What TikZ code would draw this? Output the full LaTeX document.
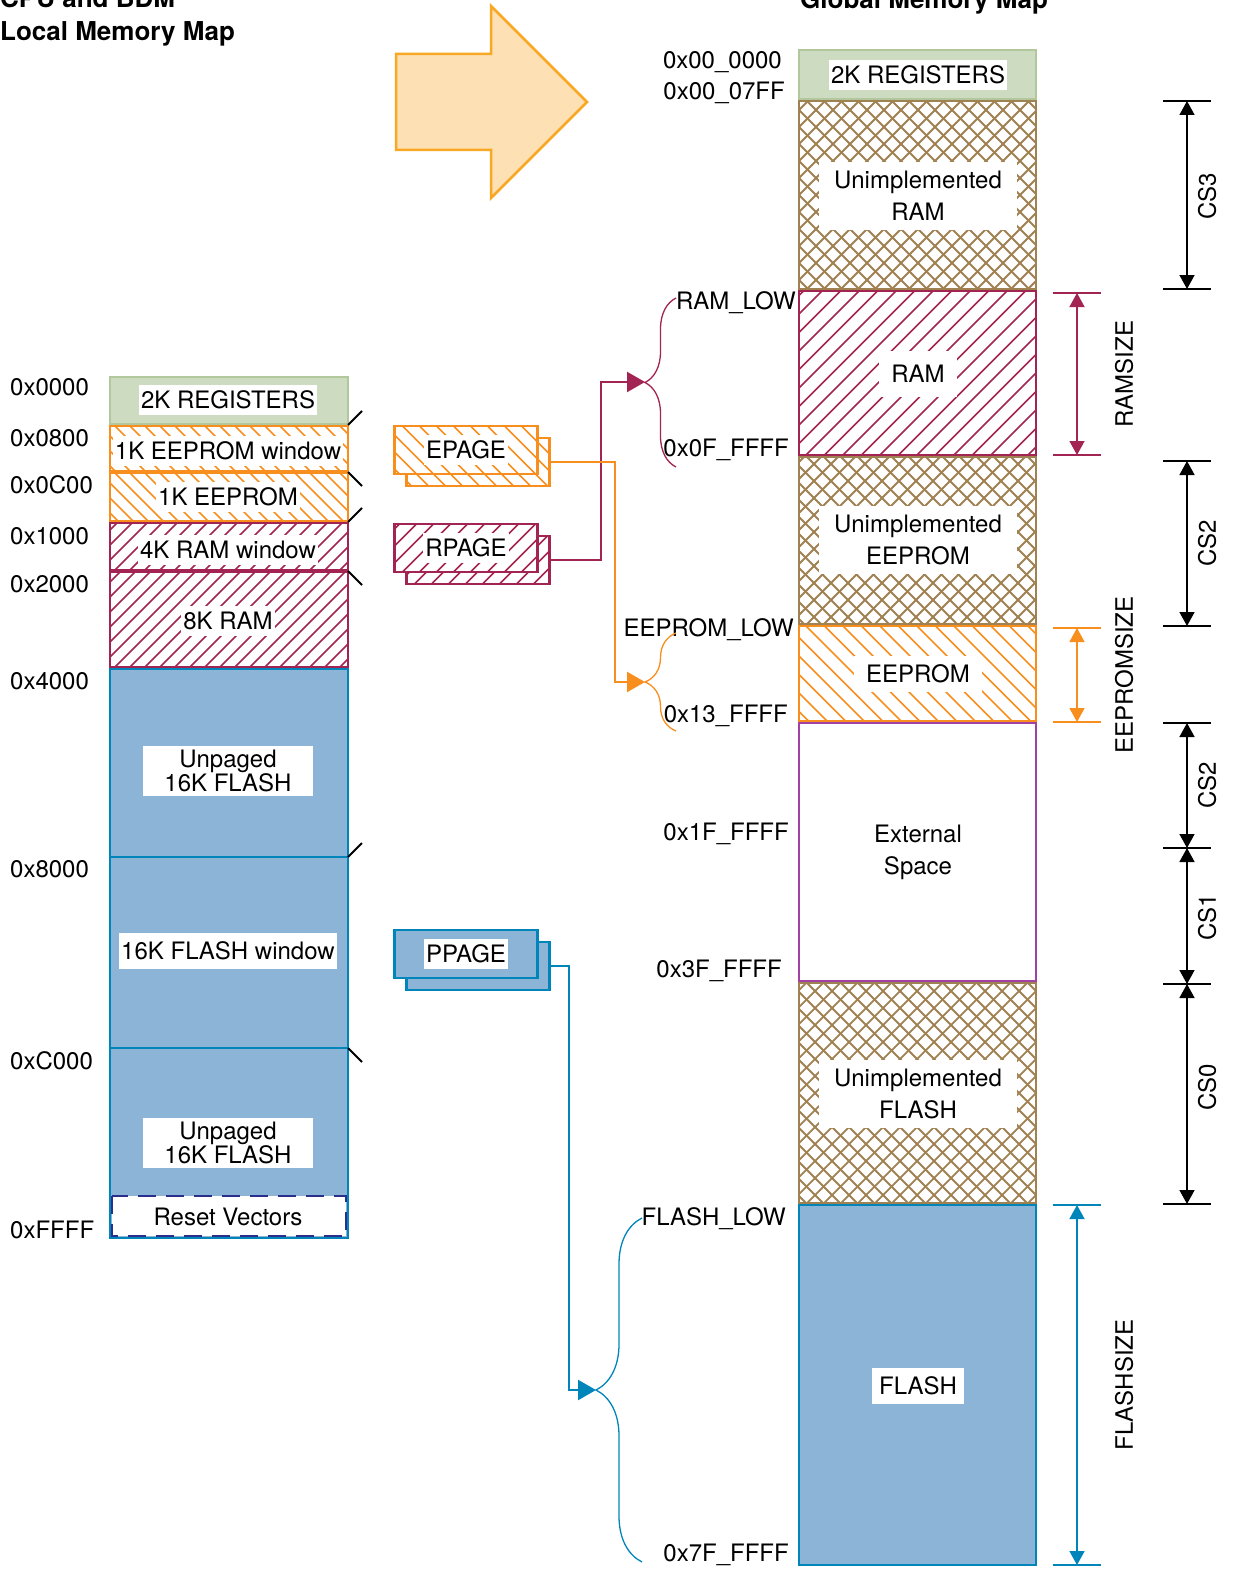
\documentclass[tikz,border=0pt]{standalone}
\usepackage{fontspec}
\setmainfont{TeX Gyre Heros}
\usepackage{tikz}
\usetikzlibrary{arrows.meta}
\usetikzlibrary{decorations.pathreplacing,calc}
\definecolor{regfill}{RGB}{205,219,192}
\definecolor{regline}{RGB}{178,199,155}
\definecolor{eeorange}{RGB}{247,142,30}
\definecolor{ramred}{RGB}{161,36,82}
\definecolor{flashfill}{RGB}{139,180,214}
\definecolor{flashline}{RGB}{0,133,186}
\definecolor{unimpl}{RGB}{160,129,82}
\definecolor{extpurple}{RGB}{163,64,163}
\definecolor{resetnavy}{RGB}{44,46,140}
\definecolor{bigfill}{RGB}{253,225,180}
\definecolor{bigline}{RGB}{249,168,37}
\begin{document}
\begin{tikzpicture}[x=1pt,y=-1pt,font=\fontsize{24}{32}\selectfont,
  hatchne/.style 2 args={path picture={\foreach \k in {0,#2,...,660}
    \draw[line width=1.7pt,#1] ($(path picture bounding box.south west)+(\k-400,0)$) -- ++(500,-500);}},
  hatchnw/.style 2 args={path picture={\foreach \k in {0,#2,...,660}
    \draw[line width=1.7pt,#1] ($(path picture bounding box.north west)+(\k-400,0)$) -- ++(500,500);}},
  regbox/.style={draw=regline,fill=regfill,line width=2.4pt},
  eebox/.style={draw=eeorange,line width=2.4pt,fill=white,hatchnw={eeorange}{#1}},
  eebox/.default=18.5,
  rambox/.style={draw=ramred,line width=2.4pt,fill=white,hatchne={ramred}{#1}},
  rambox/.default=18.5,
  flashbox/.style={draw=flashline,fill=flashfill,line width=2.4pt},
  unimplbox/.style={draw=unimpl,line width=2.4pt,fill=white,path picture={
    \foreach \k in {0,17,...,660} {
      \draw[line width=1.8pt,unimpl] ($(path picture bounding box.south west)+(\k-400,0)$) -- ++(500,-500);
      \draw[line width=1.8pt,unimpl] ($(path picture bounding box.north west)+(\k-400,0)$) -- ++(500,500);}}},
  pagebox/.style={minimum width=143,minimum height=48},
  lbl/.style={fill=white,inner xsep=2pt,inner ysep=6pt,align=center},
  glbl/.style={lbl,inner xsep=12pt,inner ysep=9pt},
  tight/.style={font=\fontsize{24}{23}\selectfont},
  addr/.style={inner sep=0pt},
  titl/.style={inner sep=0pt,anchor=base west,font=\fontsize{26}{30}\selectfont\bfseries},
  conn/.style={line width=2.4pt,-{Triangle[width=20pt,length=18pt]}},
  dimarr/.style={line width=1.5pt,{Triangle[width=15pt,length=14pt]}-{Triangle[width=15pt,length=14pt]}},
  dimtick/.style={line width=1.3pt},
  wintick/.style={line width=2pt},
  brc/.style={line width=1.3pt,decorate,decoration={brace,amplitude=#1}}]
\useasboundingbox (0,0) rectangle (1239,1581);

\node[titl] (ltitle) at (0,8) {CPU and BDM};
\node[titl] (ltitle2) at (0,41) {Local Memory Map};
\node[titl] (gtitle) at (800,9) {Global Memory Map};

\draw[line width=2.5pt,draw=bigline,fill=bigfill] (396,54) -- (491,54) -- (491,6) -- (587,102)
  -- (491,198) -- (491,150) -- (396,150) -- cycle;

% local map
\draw[regbox] (110,377) rectangle (348,424);
\draw[eebox=15] (110,426) rectangle (348,471);
\draw[eebox=15] (110,473) rectangle (348,521);
\draw[rambox=15] (110,523) rectangle (348,570);
\draw[rambox=15] (110,572) rectangle (348,667);
\draw[flashbox] (110,669) rectangle (348,857);
\draw[flashbox] (110,857) rectangle (348,1048);
\draw[flashbox] (110,1048) rectangle (348,1238);
\draw[line width=2.4pt,draw=resetnavy,fill=white,dash pattern=on 18pt off 10pt] (112,1196) rectangle (346,1236);

\node[lbl] (lregs) at (228,400) {2K REGISTERS};
\node[lbl] (leewin) at (228,451) {1K EEPROM window};
\node[lbl] (lee) at (228,497) {1K EEPROM};
\node[lbl] (lramwin) at (228,550) {4K RAM window};
\node[lbl] (lram) at (228,621) {8K RAM};
\node[lbl,tight,inner ysep=4pt,minimum width=170] (lflash1) at (228,771) {Unpaged\\16K FLASH};
\node[lbl,inner ysep=9pt] (lflashwin) at (228,951) {16K FLASH window};
\node[lbl,tight,inner ysep=4pt,minimum width=170] (lflash3) at (228,1143) {Unpaged\\16K FLASH};
\node[inner sep=0pt] (lreset) at (228,1217) {Reset Vectors};

\draw[wintick] (348,425) -- (362,411);
\draw[wintick] (348,472) -- (362,486);
\draw[wintick] (348,522) -- (362,508);
\draw[wintick] (348,571) -- (362,585);
\draw[wintick] (348,857) -- (362,843);
\draw[wintick] (348,1048) -- (362,1062);

\node[addr,anchor=base west] (a0000) at (10,395) {0x0000};
\node[addr,anchor=base west] (a0800) at (10,446) {0x0800};
\node[addr,anchor=base west] (a0c00) at (10,493) {0x0C00};
\node[addr,anchor=base west] (a1000) at (10,544) {0x1000};
\node[addr,anchor=base west] (a2000) at (10,592) {0x2000};
\node[addr,anchor=base west] (a4000) at (10,689) {0x4000};
\node[addr,anchor=base west] (a8000) at (10,877) {0x8000};
\node[addr,anchor=base west] (ac000) at (10,1069) {0xC000};
\node[addr,anchor=base west] (affff) at (10,1238) {0xFFFF};

% page registers
\node[eebox=17,pagebox] (epageb) at (478,462) {};
\node[eebox=17,pagebox] (epage) at (466,450) {};
\node[lbl] (epagetxt) at (epage) {EPAGE};
\node[rambox=17,pagebox] (rpageb) at (478,560) {};
\node[rambox=17,pagebox] (rpage) at (466,548) {};
\node[lbl] (rpagetxt) at (rpage) {RPAGE};
\node[flashbox,pagebox] (ppageb) at (478,966) {};
\node[flashbox,pagebox] (ppage) at (466,954) {};
\node[lbl] (ppagetxt) at (ppage) {PPAGE};

% global map
\draw[regbox] (799,50) rectangle (1036,99);
\draw[unimplbox] (799,101) rectangle (1036,289);
\draw[rambox] (799,291) rectangle (1036,455);
\draw[unimplbox] (799,457) rectangle (1036,624);
\draw[eebox] (799,626) rectangle (1036,721);
\draw[line width=2.4pt,draw=extpurple,fill=white] (799,723) rectangle (1036,981);
\draw[unimplbox] (799,983) rectangle (1036,1203);
\draw[flashbox] (799,1205) rectangle (1036,1565);

\node[lbl] (gregs) at (918,75) {2K REGISTERS};
\node[glbl,inner xsep=15pt] (gunram) at (918,196) {Unimplemented\\RAM};
\node[glbl,inner ysep=14pt] (gram) at (918,374) {RAM};
\node[glbl,inner xsep=15pt] (guneep) at (918,540) {Unimplemented\\EEPROM};
\node[glbl] (geep) at (918,674) {EEPROM};
\node[glbl] (gext) at (918,852) {External\\Space};
\node[glbl,inner xsep=15pt] (gunflash) at (918,1094) {Unimplemented\\FLASH};
\node[glbl,inner xsep=7pt] (gflash) at (918,1386) {FLASH};

\node[addr,anchor=base east] (g0000) at (782,69) {0x00\_0000};
\node[addr,anchor=base east] (g07ff) at (785,100) {0x00\_07FF};
\node[addr,anchor=base east] (gramlow) at (796,309) {RAM\_LOW};
\node[addr,anchor=base east] (g0fff) at (789,456) {0x0F\_FFFF};
\node[addr,anchor=base east] (geelow) at (794,636) {EEPROM\_LOW};
\node[addr,anchor=base east] (g13ff) at (788,722) {0x13\_FFFF};
\node[addr,anchor=base east] (g1fff) at (789,840) {0x1F\_FFFF};
\node[addr,anchor=base east] (g3fff) at (782,977) {0x3F\_FFFF};
\node[addr,anchor=base east] (gflow) at (786,1225) {FLASH\_LOW};
\node[addr,anchor=base east] (g7fff) at (789,1561) {0x7F\_FFFF};

% braces and connectors
\coordinate (ramtip) at (645,382);
\coordinate (eetip) at (645,682);
\coordinate (flashtip) at (596,1390);
\draw[brc=31pt,ramred] (676,467) -- (676,298);
\draw[brc=31pt,eeorange] (676,731) -- (676,633);
\draw[brc=46pt,flashline] (642,1562) -- (642,1218);
\draw[conn,ramred] (rpageb.east) -- ++(50,0) |- (ramtip);
\draw[conn,eeorange] (epageb.east) -- ++(64,0) |- (eetip);
\draw[conn,flashline] (ppageb.east) -- ++(18,0) |- (flashtip);

% chip selects
\draw[dimtick] (1163,101) -- (1211,101);
\draw[dimtick] (1163,289) -- (1211,289);
\draw[dimtick] (1163,461) -- (1211,461);
\draw[dimtick] (1163,626) -- (1211,626);
\draw[dimtick] (1163,723) -- (1211,723);
\draw[dimtick] (1163,848) -- (1211,848);
\draw[dimtick] (1163,984) -- (1211,984);
\draw[dimtick] (1163,1204) -- (1211,1204);
\draw[dimarr] (1187,101) -- (1187,289);
\draw[dimarr] (1187,461) -- (1187,626);
\draw[dimarr] (1187,723) -- (1187,848);
\draw[dimarr] (1187,848) -- (1187,984);
\draw[dimarr] (1187,984) -- (1187,1204);
\node[rotate=90] (cs3) at (1207,196) {CS3};
\node[rotate=90] (cs2a) at (1207,543) {CS2};
\node[rotate=90] (cs2b) at (1207,785) {CS2};
\node[rotate=90] (cs1) at (1207,917) {CS1};
\node[rotate=90] (cs0) at (1207,1087) {CS0};

% sizes
\draw[dimtick,ramred] (1053,293) -- (1101,293);
\draw[dimtick,ramred] (1053,455) -- (1101,455);
\draw[dimarr,ramred] (1077,293) -- (1077,455);
\draw[dimtick,eeorange] (1053,628) -- (1101,628);
\draw[dimtick,eeorange] (1053,722) -- (1101,722);
\draw[dimarr,eeorange] (1077,628) -- (1077,722);
\draw[dimtick,flashline] (1053,1205) -- (1101,1205);
\draw[dimtick,flashline] (1053,1565) -- (1101,1565);
\draw[dimarr,flashline] (1077,1205) -- (1077,1565);
\node[rotate=90] (ramsize) at (1124,374) {RAMSIZE};
\node[rotate=90] (eesize) at (1124,675) {EEPROMSIZE};
\node[rotate=90] (flashsize) at (1124,1385) {FLASHSIZE};
\end{tikzpicture}
\end{document}
